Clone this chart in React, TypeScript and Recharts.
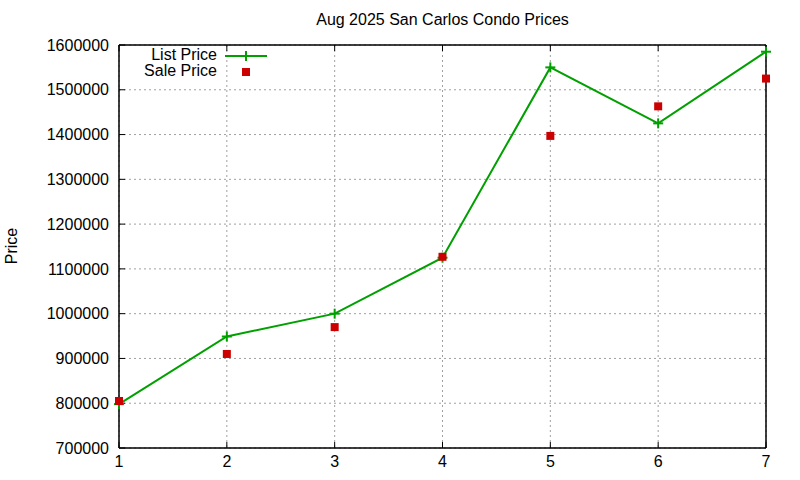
import React from 'react';
import { ComposedChart, Line, XAxis, YAxis, CartesianGrid, ReferenceArea } from 'recharts';

// readings
const weeks = [1, 2, 3, 4, 5, 6, 7];
const listPrice = [798000, 949000, 1000000, 1125000, 1550000, 1425000, 1585000];
const salePrice = [805000, 910000, 970000, 1127000, 1397000, 1463000, 1525000];
const priceTicks = [700000, 800000, 900000, 1000000, 1100000, 1200000, 1300000, 1400000, 1500000, 1600000];

const data = weeks.map((w, i) => ({ x: w, list: listPrice[i], sale: salePrice[i] }));

const FONT = '"Liberation Sans", Arial, sans-serif';
const GREEN = '#00a000';
const RED = '#cc0000';

const PlusDot = (props: any) => {
  const { cx, cy } = props;
  if (cx == null || cy == null) return null;
  return (
    <g>
      <line x1={cx - 5} y1={cy} x2={cx + 5} y2={cy} stroke={GREEN} strokeWidth={2} />
      <line x1={cx} y1={cy - 5} x2={cx} y2={cy + 5} stroke={GREEN} strokeWidth={2} />
    </g>
  );
};

const SquareDot = (props: any) => {
  const { cx, cy } = props;
  if (cx == null || cy == null) return null;
  return <rect x={cx - 4} y={cy - 4} width={8} height={8} fill={RED} />;
};

// gnuplot-style key, top-left inside the plot
const KeyBox = () => (
  <svg width={140} height={40} style={{ position: 'absolute', left: 140, top: 44 }}>
    <text x={77} y={16} textAnchor="end" fontSize={16} fontFamily={FONT} fill="#000">List Price</text>
    <line x1={85} y1={12} x2={127} y2={12} stroke={GREEN} strokeWidth={2} />
    <line x1={106} y1={7} x2={106} y2={17} stroke={GREEN} strokeWidth={2} />
    <text x={77} y={32} textAnchor="end" fontSize={16} fontFamily={FONT} fill="#000">Sale Price</text>
    <rect x={102} y={24} width={8} height={8} fill={RED} />
  </svg>
);

export default function App() {
  return (
    <div style={{ position: 'absolute', left: 0, top: 0, width: 800, height: 480, background: '#fff', fontFamily: FONT }}>
      <ComposedChart width={800} height={480} data={data} margin={{ top: 44, right: 33, left: 0, bottom: 0 }}>
        <CartesianGrid xAxisId="b" yAxisId="l" stroke="#a0a0a0" strokeDasharray="2 3" />
        <XAxis
          xAxisId="b"
          type="number"
          dataKey="x"
          domain={[1, 7]}
          ticks={weeks}
          height={32}
          stroke="#000"
          tickSize={-6}
          tickMargin={14}
          tick={{ fill: '#000', fontSize: 16, fontFamily: FONT }}
        />
        <XAxis
          xAxisId="t"
          orientation="top"
          type="number"
          dataKey="x"
          domain={[1, 7]}
          ticks={weeks}
          height={1}
          stroke="#000"
          tickSize={-6}
          tickFormatter={() => ''}
        />
        <YAxis
          yAxisId="l"
          type="number"
          domain={[700000, 1600000]}
          ticks={priceTicks}
          width={119}
          stroke="#000"
          tickSize={-6}
          tickMargin={16}
          tick={{ fill: '#000', fontSize: 16, fontFamily: FONT }}
        />
        <YAxis
          yAxisId="r"
          orientation="right"
          type="number"
          domain={[700000, 1600000]}
          ticks={priceTicks}
          width={1}
          stroke="#000"
          tickSize={-6}
          tickFormatter={() => ''}
        />
        <ReferenceArea
          xAxisId="b"
          yAxisId="l"
          x1={1}
          x2={7}
          y1={700000}
          y2={1600000}
          fill="none"
          stroke="#000"
          strokeWidth={1}
        />
        <Line
          xAxisId="b"
          yAxisId="l"
          dataKey="list"
          type="linear"
          stroke={GREEN}
          strokeWidth={2}
          dot={<PlusDot />}
          activeDot={false}
          isAnimationActive={false}
        />
        <Line
          xAxisId="b"
          yAxisId="l"
          dataKey="sale"
          type="linear"
          stroke="none"
          dot={<SquareDot />}
          activeDot={false}
          isAnimationActive={false}
        />
      </ComposedChart>
      <div style={{ position: 'absolute', left: 119, width: 647, top: 11, textAlign: 'center', fontSize: 16, color: '#000' }}>
        Aug 2025 San Carlos Condo Prices
      </div>
      <div
        style={{
          position: 'absolute', left: 12, top: 246, fontSize: 16, color: '#000',
          transform: 'translate(-50%, -50%) rotate(-90deg)', whiteSpace: 'nowrap',
        }}
      >
        Price
      </div>
      <KeyBox />
    </div>
  );
}
